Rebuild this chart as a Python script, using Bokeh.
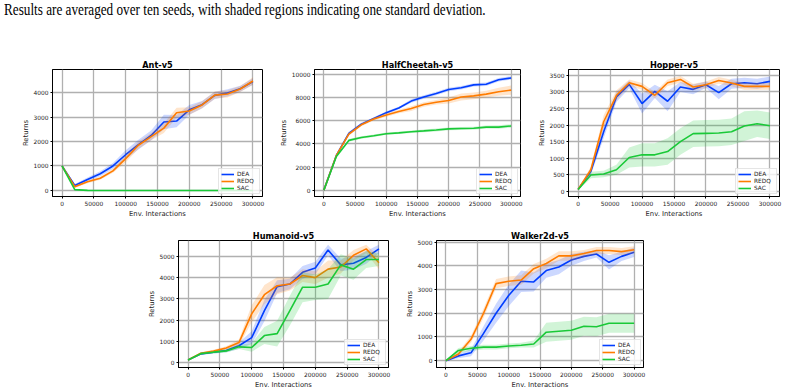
from bokeh.plotting import figure
from bokeh.models import Range1d, FixedTicker, BasicTickFormatter, Div, Spacer
from bokeh.layouts import column, row
from bokeh.embed import file_html
from bokeh.resources import INLINE

# ---------------- data ----------------
steps = [0, 20000, 40000, 60000, 80000, 100000, 120000, 140000, 160000,
         180000, 200000, 220000, 240000, 260000, 280000, 300000]
x_ticks = [0, 50000, 100000, 150000, 200000, 250000, 300000]
algos = ["DEA", "REDQ", "SAC"]
caption = "Results are averaged over ten seeds, with shaded regions indicating one standard deviation."

# Ant-v5
ant_dea = [1000, 200, 450, 680, 1000, 1460, 1870, 2250, 2800, 2840, 3300, 3510, 3890, 3990, 4160, 4460]
ant_dea_std = [0, 60, 80, 100, 120, 180, 200, 200, 300, 250, 200, 150, 150, 150, 120, 130]
ant_redq = [1000, 150, 350, 500, 800, 1300, 1850, 2200, 2550, 3180, 3250, 3500, 3900, 3950, 4150, 4480]
ant_redq_std = [0, 50, 60, 60, 80, 150, 150, 150, 200, 200, 150, 150, 150, 150, 120, 150]
ant_sac = [1000, 30, 0, -5, -5, -5, -5, -5, -5, -5, -5, -5, -5, -5, -5, -5]
ant_sac_std = [0, 20, 5, 5, 5, 5, 5, 5, 5, 5, 5, 5, 5, 5, 5, 5]
ant_yticks = [0, 1000, 2000, 3000, 4000]

# HalfCheetah-v5
hc_dea = [0, 3000, 4900, 5700, 6200, 6700, 7100, 7700, 8050, 8350, 8700, 8850, 9100, 9150, 9550, 9700]
hc_dea_std = [0, 100, 150, 120, 100, 120, 100, 150, 150, 150, 150, 150, 150, 150, 150, 150]
hc_redq = [0, 3000, 4850, 5650, 6150, 6500, 6800, 7050, 7400, 7600, 7750, 8050, 8150, 8300, 8500, 8650]
hc_redq_std = [0, 100, 150, 120, 120, 150, 150, 200, 200, 200, 250, 300, 300, 300, 350, 400]
hc_sac = [0, 2900, 4300, 4550, 4700, 4880, 4950, 5050, 5120, 5200, 5300, 5330, 5350, 5450, 5450, 5550]
hc_sac_std = [0, 100, 120, 100, 100, 100, 100, 100, 120, 120, 120, 120, 120, 130, 150, 150]
hc_yticks = [0, 2000, 4000, 6000, 8000, 10000]

# Hopper-v5
hop_dea = [50, 600, 1800, 2850, 3230, 2650, 3020, 2720, 3150, 3080, 3220, 2980, 3250, 3280, 3250, 3320]
hop_dea_std = [20, 100, 200, 150, 120, 300, 200, 300, 150, 150, 100, 200, 150, 150, 150, 150]
hop_redq = [50, 650, 2100, 2900, 3280, 3170, 2900, 3280, 3380, 3150, 3220, 3350, 3270, 3170, 3170, 3170]
hop_redq_std = [20, 100, 200, 150, 100, 100, 100, 100, 100, 100, 100, 100, 100, 100, 100, 100]
hop_sac = [50, 490, 520, 650, 1020, 1100, 1100, 1200, 1500, 1740, 1750, 1760, 1800, 1970, 2040, 1980]
hop_sac_std = [20, 100, 100, 150, 300, 350, 350, 400, 400, 400, 400, 400, 400, 450, 400, 400]
hop_yticks = [0, 500, 1000, 1500, 2000, 2500, 3000, 3500]

# Humanoid-v5
hum_dea = [130, 420, 500, 580, 800, 1180, 2450, 3580, 3700, 4250, 4450, 5300, 4600, 4680, 4950, 5350]
hum_dea_std = [30, 50, 60, 80, 150, 300, 500, 300, 250, 300, 300, 250, 300, 300, 300, 200]
hum_redq = [130, 450, 550, 700, 950, 2300, 3200, 3620, 3700, 4100, 4000, 4400, 4500, 5050, 5350, 4700]
hum_redq_std = [30, 50, 60, 80, 150, 400, 450, 400, 300, 300, 300, 400, 300, 250, 200, 300]
hum_sac = [130, 430, 500, 560, 750, 720, 1280, 1370, 2450, 3550, 3550, 3700, 4600, 4400, 4850, 4850]
hum_sac_std = [30, 50, 60, 80, 100, 200, 400, 600, 700, 700, 600, 700, 500, 500, 400, 300]
hum_yticks = [0, 1000, 2000, 3000, 4000, 5000]

# Walker2d-v5
wal_dea = [0, 200, 330, 1150, 2000, 2750, 3350, 3320, 3800, 3950, 4250, 4400, 4500, 4150, 4400, 4570]
wal_dea_std = [20, 100, 150, 300, 400, 450, 450, 400, 300, 300, 250, 200, 150, 300, 200, 200]
wal_redq = [0, 280, 900, 2000, 3250, 3350, 3400, 3880, 4100, 4420, 4420, 4520, 4650, 4650, 4600, 4680]
wal_redq_std = [20, 100, 150, 200, 200, 200, 200, 200, 200, 200, 200, 150, 150, 150, 150, 150]
wal_sac = [0, 430, 520, 570, 570, 620, 650, 700, 1200, 1240, 1280, 1450, 1430, 1580, 1580, 1580]
wal_sac_std = [20, 100, 100, 100, 100, 100, 100, 150, 400, 400, 400, 400, 400, 400, 400, 400]
wal_yticks = [0, 1000, 2000, 3000, 4000, 5000]

COLORS = ["#023eff", "#ff7c00", "#1ac938"]
FONT = "DejaVu Sans"


def make_panel(title, series, stds, yr, yticks, width, height, left, right, top, bottom):
    p = figure(width=width, height=height, output_backend="svg", toolbar_location=None,
               x_range=Range1d(-15000, 315000), y_range=Range1d(yr[0], yr[1]),
               min_border_left=left, min_border_right=right,
               min_border_top=top, min_border_bottom=bottom, title=title)
    p.background_fill_color = "white"
    p.border_fill_color = "white"
    p.outline_line_color = "black"
    p.outline_line_width = 1
    p.outline_line_alpha = 1

    p.title.text_font = FONT
    p.title.text_font_style = "bold"
    p.title.text_font_size = "8.2px"
    p.title.align = "center"
    p.title.standoff = 0
    p.title.text_color = "black"

    p.xaxis.ticker = FixedTicker(ticks=x_ticks)
    p.yaxis.ticker = FixedTicker(ticks=yticks)
    p.xaxis.formatter = BasicTickFormatter(use_scientific=False)
    p.yaxis.formatter = BasicTickFormatter(use_scientific=False)
    p.xaxis.axis_label = "Env. Interactions"
    p.yaxis.axis_label = "Returns"
    for ax in (p.xaxis, p.yaxis):
        ax.axis_label_text_font = FONT
        ax.axis_label_text_font_size = "6.8px"
        ax.axis_label_text_font_style = "normal"
        ax.axis_label_text_color = "#222222"
        ax.axis_label_standoff = 1
        ax.major_label_text_font = FONT
        ax.major_label_text_font_size = "5.9px"
        ax.major_label_text_color = "#222222"
        ax.major_label_standoff = 2
        ax.major_tick_out = 2
        ax.major_tick_in = 0
        ax.minor_tick_out = 0
        ax.minor_tick_in = 0
        ax.axis_line_color = "black"
        ax.major_tick_line_color = "black"
    for g in (p.xgrid, p.ygrid):
        g.grid_line_color = "#b0b0b0"
        g.grid_line_width = 1.3

    for name, mean, sd, col in zip(algos, series, stds, COLORS):
        lo = [m - s for m, s in zip(mean, sd)]
        hi = [m + s for m, s in zip(mean, sd)]
        p.varea(x=steps, y1=lo, y2=hi, fill_color=col, fill_alpha=0.2)
        p.line(steps, mean, line_color=col, line_width=1.6, legend_label=name)

    lg = p.legend[0]
    lg.location = "bottom_right"
    lg.margin = 2
    lg.padding = 2
    lg.spacing = 1
    lg.glyph_width = 13
    lg.glyph_height = 6
    lg.label_height = 6
    lg.label_width = 20
    lg.label_standoff = 3
    lg.label_text_font = FONT
    lg.label_text_font_size = "5.8px"
    lg.label_text_color = "#222222"
    lg.border_line_color = "#cccccc"
    lg.border_line_width = 0.8
    lg.background_fill_alpha = 0.8
    return p


p1 = make_panel("Ant-v5", [ant_dea, ant_redq, ant_sac], [ant_dea_std, ant_redq_std, ant_sac_std],
                (-250, 4950), ant_yticks, 270, 170, 52, 8, 19, 24)
p2 = make_panel("HalfCheetah-v5", [hc_dea, hc_redq, hc_sac], [hc_dea_std, hc_redq_std, hc_sac_std],
                (-550, 10430), hc_yticks, 256, 170, 44, 6, 19, 24)
p3 = make_panel("Hopper-v5", [hop_dea, hop_redq, hop_sac], [hop_dea_std, hop_redq_std, hop_sac_std],
                (-160, 3680), hop_yticks, 260, 170, 42, 7, 19, 24)
p4 = make_panel("Humanoid-v5", [hum_dea, hum_redq, hum_sac], [hum_dea_std, hum_redq_std, hum_sac_std],
                (-220, 5745), hum_yticks, 258, 171, 45, 3, 20, 23)
p5 = make_panel("Walker2d-v5", [wal_dea, wal_redq, wal_sac], [wal_dea_std, wal_redq_std, wal_sac_std],
                (-290, 5070), wal_yticks, 260, 171, 45, 8, 20, 23)

cap = Div(text=caption, width=780, height=50, margin=(0, 0, 0, 4),
          styles={"font-family": "Liberation Serif", "font-size": "16.5px",
                  "transform": "scaleX(0.8)", "transform-origin": "0 0",
                  "line-height": "normal", "color": "black", "white-space": "nowrap"})

layout = column(cap,
                row(p1, p2, p3, spacing=0),
                row(Spacer(width=133, height=171), p4, p5, spacing=0),
                spacing=0)

open("out.html", "w").write(file_html(layout, INLINE))
